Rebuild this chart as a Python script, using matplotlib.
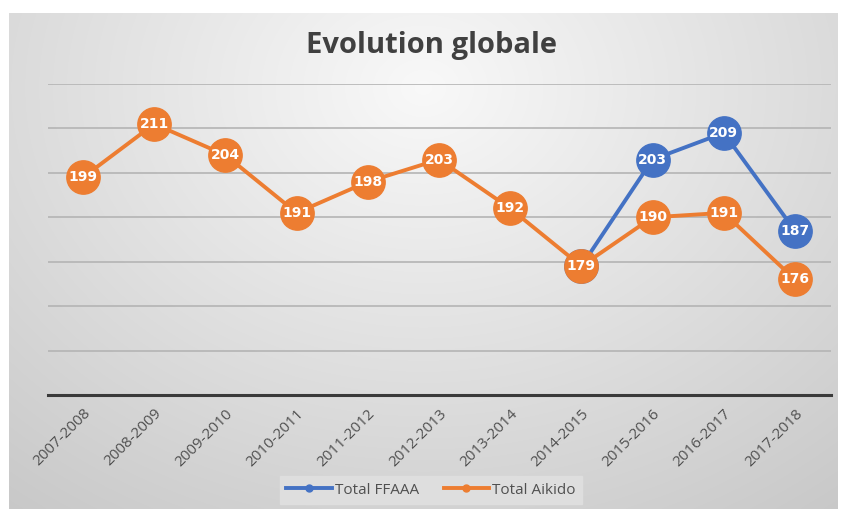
import numpy as np
import matplotlib
matplotlib.use("Agg")
import matplotlib.pyplot as plt
from matplotlib.lines import Line2D

categories = ["2007-2008", "2008-2009", "2009-2010", "2010-2011", "2011-2012",
              "2012-2013", "2013-2014", "2014-2015", "2015-2016", "2016-2017", "2017-2018"]
total_ffaaa = [None, None, None, None, None, None, None, 179, 203, 209, 187]
total_aikido = [199, 211, 204, 191, 198, 203, 192, 179, 190, 191, 176]

BLUE = "#4472C4"
ORANGE = "#ED7D31"

W, H = 842, 509
fig = plt.figure(figsize=(W / 100, H / 100), dpi=100)
fig.patch.set_facecolor("white")

# gradient background of chart area
bg = fig.add_axes([9 / W, 0, (838 - 9) / W, (H - 13) / H])
ny, nx = 300, 600
yy, xx = np.mgrid[0:1:ny * 1j, 0:1:nx * 1j]
r = np.sqrt(((xx - 0.5) / 0.75) ** 2 + ((yy - 0.15) / 1.0) ** 2)
v = 0.975 - 0.21 * np.clip(r, 0, 1.2) / 1.2
img = np.dstack([v, v, v])
bg.imshow(img, aspect="auto", extent=[0, 1, 1, 0], interpolation="bilinear")
bg.set_axis_off()

# plot area
left, right = 47.5 / W, 830.5 / W
top_px, bot_px = 84, 395
ax = fig.add_axes([left, 1 - bot_px / H, right - left, (bot_px - top_px) / H])
ax.set_facecolor("none")
x = np.arange(len(categories))
ax.set_xlim(-0.5, len(categories) - 0.5)
ax.set_ylim(150, 220)
ax.set_yticks(np.arange(150, 221, 10))
ax.yaxis.grid(True, color="#b4b4b4", linewidth=1.2)
ax.set_axisbelow(True)
ax.tick_params(axis="y", left=False, labelleft=False)
for s in ["top", "right", "left"]:
    ax.spines[s].set_visible(False)
ax.spines["bottom"].set_color("#3a3a3a")
ax.spines["bottom"].set_linewidth(2.2)
ax.spines["bottom"].set_zorder(3)

ffa = np.array([np.nan if v is None else v for v in total_ffaaa], dtype=float)
aik = np.array(total_aikido, dtype=float)

ax.plot(x, ffa, color=BLUE, linewidth=2.8, marker="o", markersize=24,
        markerfacecolor=BLUE, markeredgecolor=BLUE, label="Total FFAAA", zorder=4, clip_on=False)
ax.plot(x, aik, color=ORANGE, linewidth=2.8, marker="o", markersize=24,
        markerfacecolor=ORANGE, markeredgecolor=ORANGE, label="Total Aikido", zorder=5, clip_on=False)

for xi, val in zip(x, ffa):
    if not np.isnan(val) and val != aik[xi]:
        ax.text(xi, val, f"{int(val)}", color="white", fontsize=10, fontweight="bold",
                ha="center", va="center", zorder=6)
for xi, val in zip(x, aik):
    ax.text(xi, val, f"{int(val)}", color="white", fontsize=10, fontweight="bold",
            ha="center", va="center", zorder=7)

ax.set_xticks(x)
ax.set_xticklabels(categories, rotation=45, ha="right", rotation_mode="anchor",
                   fontsize=11, color="#505050", family="Open Sans")
ax.tick_params(axis="x", length=0, pad=8)

fig.text(431 / W, 1 - 45 / H, "Evolution globale", ha="center", va="center",
         fontsize=21, fontweight="bold", color="#404040", family="Open Sans")

handles = [Line2D([], [], color=BLUE, linewidth=2.8, marker="o", markersize=5),
           Line2D([], [], color=ORANGE, linewidth=2.8, marker="o", markersize=5)]
leg = fig.legend(handles, ["Total FFAAA", "Total Aikido"], loc="center",
                 bbox_to_anchor=(431 / W, 1 - 490 / H), ncol=2, frameon=True,
                 fancybox=False, handlelength=3.0, handletextpad=0.2, columnspacing=1.6,
                 prop={"family": "Open Sans", "size": 11}, borderpad=0.4)
leg.get_frame().set_facecolor("#dedede")
leg.get_frame().set_edgecolor("#dedede")
leg.get_frame().set_alpha(1)
for t in leg.get_texts():
    t.set_color("#505050")

fig.savefig("out.png", dpi=100, facecolor=fig.get_facecolor())
